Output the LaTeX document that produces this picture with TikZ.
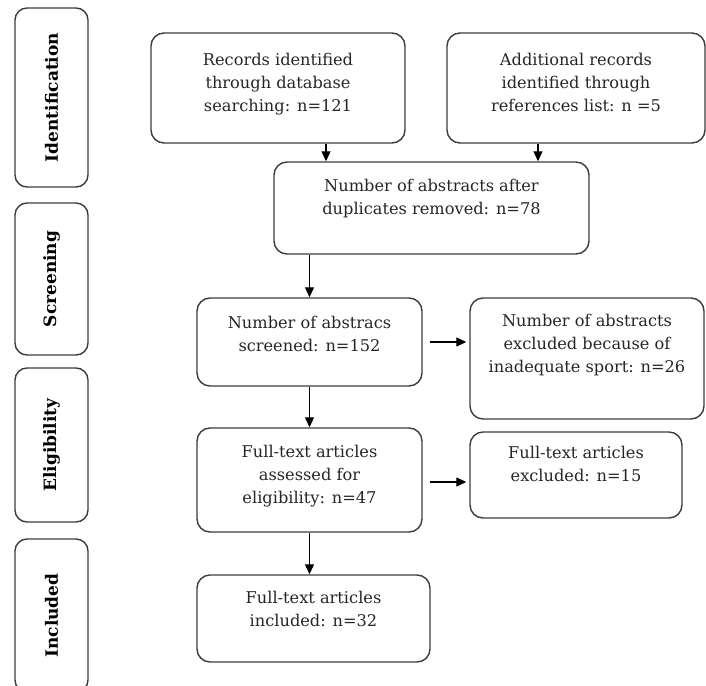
\documentclass[tikz,border=0pt]{standalone}
\usepackage{fontspec}
\setmainfont{DejaVu Serif}
\usepackage{tikz}
\usetikzlibrary{arrows.meta}
\definecolor{edge}{HTML}{3C3C3C}
\definecolor{ink}{HTML}{262626}

\begin{document}
\begin{tikzpicture}[x=1pt,y=-1pt,
  box/.style={draw=edge, line width=1.4pt, rounded corners=13pt, align=center,
    text=ink, inner sep=0pt, font=\fontsize{16.2}{23}\selectfont},
  phase/.style={draw=edge, line width=1.4pt, rounded corners=12pt, rotate=90,
    minimum height=73pt, text=black, font=\fontsize{17}{19}\selectfont\bfseries},
  arr/.style={draw=black, line width=1.1pt, -{Triangle[length=10pt,width=9pt]}}]
\useasboundingbox (0,0) rectangle (706,685);

% phases on the left
\node[phase, minimum width=179pt] (ident) at (51.5,97.5) {Identification};
\node[phase, minimum width=152pt] (screen) at (51.5,279) {Screening};
\node[phase, minimum width=154pt] (elig) at (51.5,445) {Eligibility};
\node[phase, minimum width=153pt] (inclph) at (51.5,615.5) {Included};

% flow boxes
\node[box, minimum width=254pt, minimum height=110pt, text depth=12pt] (records) at (278,88)
  {Records identified\\ through database\\ searching: n=121};
\node[box, minimum width=258pt, minimum height=110pt, text depth=12pt] (add) at (576,88)
  {Additional records\\ identified through\\ references list: n =5};
\node[box, minimum width=315pt, minimum height=92pt, text depth=23pt] (dup) at (431.5,208)
  {Number of abstracts after\\ duplicates removed: n=78};
\node[box, minimum width=225pt, minimum height=88pt, text depth=17pt] (screened) at (309.5,342)
  {Number of abstracs\\ screened: n=152};
\node[box, minimum width=234pt, minimum height=121pt, text depth=31pt] (excl) at (587,358.5)
  {Number of abstracts\\ excluded because of\\ inadequate sport: n=26};
\node[box, minimum width=225pt, minimum height=104pt, text depth=11pt] (assessed) at (309.5,480)
  {Full-text articles\\ assessed for\\ eligibility: n=47};
\node[box, minimum width=212pt, minimum height=86pt, text depth=23pt] (exclft) at (576,475)
  {Full-text articles\\ excluded: n=15};
\node[box, minimum width=233pt, minimum height=87pt, text depth=19pt] (incl) at (313.5,618.5)
  {Full-text articles\\ included: n=32};

% arrows
\draw[arr] ([xshift=48pt]records.south) -- ([xshift=48pt]records.south |- dup.north);
\draw[arr] ([xshift=-38pt]add.south) -- ([xshift=-38pt]add.south |- dup.north);
\draw[arr] (screened.north |- dup.south) -- (screened.north);
\draw[arr] ([xshift=7pt]screened.east) -- ([xshift=-3pt]screened.east -| excl.west);
\draw[arr] (screened.south) -- (assessed.north);
\draw[arr] ([xshift=7pt,yshift=-2pt]assessed.east) -- ([xshift=-3pt,yshift=-2pt]assessed.east -| exclft.west);
\draw[arr] (assessed.south) -- (assessed.south |- incl.north);
\end{tikzpicture}
\end{document}
